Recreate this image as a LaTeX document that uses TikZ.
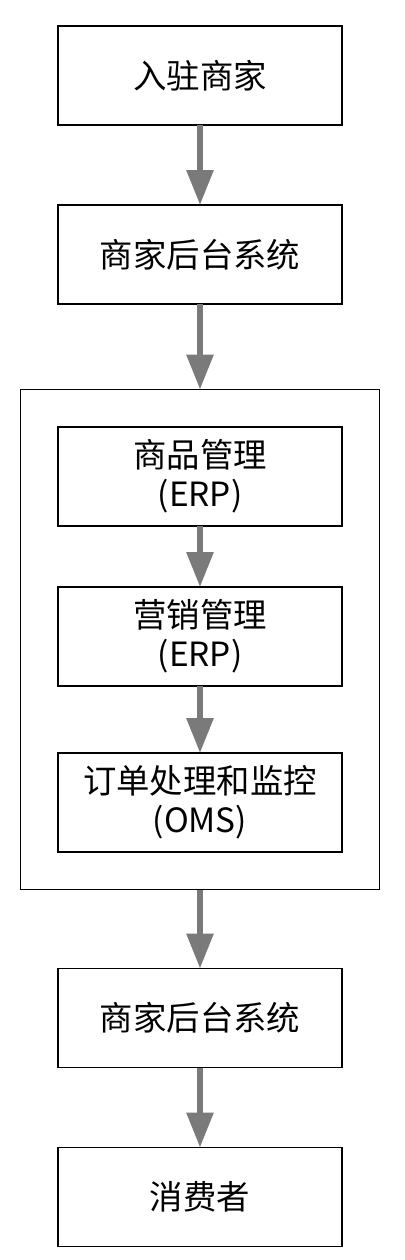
\documentclass[tikz,border=0pt]{standalone}
\usepackage{fontspec}
\setmainfont{Noto Sans CJK SC}
\usepackage{tikz}
\usetikzlibrary{positioning,fit,arrows.meta}
\definecolor{FlowGray}{RGB}{122,122,122}
\tikzset{
  stage/.style={rectangle, draw=black, line width=1.1pt, fill=white, align=center,
    minimum width=5.68cm, minimum height=1.98cm, inner sep=2pt, outer sep=0pt,
    font=\fontsize{19}{22}\selectfont},
  group/.style={rectangle, draw=black, line width=1.1pt, inner sep=0.75cm, outer sep=0pt},
  flow/.style={-{Triangle[length=0.7cm, width=0.52cm]}, line width=0.12cm, draw=FlowGray}
}

\begin{document}
\begin{tikzpicture}
  \useasboundingbox (0,0) rectangle (8.08,-25.2);
  \node[stage] (m) at (4.0,-1.51) {入驻商家};
  \node[stage, below=1.6cm of m] (b1) {商家后台系统};
  \node[stage, below=2.46cm of b1] (goods) {商品管理\\(ERP)};
  \node[stage, below=1.22cm of goods] (mkt) {营销管理\\(ERP)};
  \node[stage, below=1.34cm of mkt] (oms) {订单处理和监控\\(OMS)};
  \node[group, fit=(goods) (mkt) (oms)] (sys) {};
  \node[stage, below=1.58cm of sys] (b2) {商家后台系统};
  \node[stage, below=1.6cm of b2] (c) {消费者};
  \draw[flow] (m) -- (b1);
  \draw[flow] (b1) -- (sys);
  \draw[flow] (goods) -- (mkt);
  \draw[flow] (mkt) -- (oms);
  \draw[flow] (sys) -- (b2);
  \draw[flow] (b2) -- (c);
\end{tikzpicture}
\end{document}
